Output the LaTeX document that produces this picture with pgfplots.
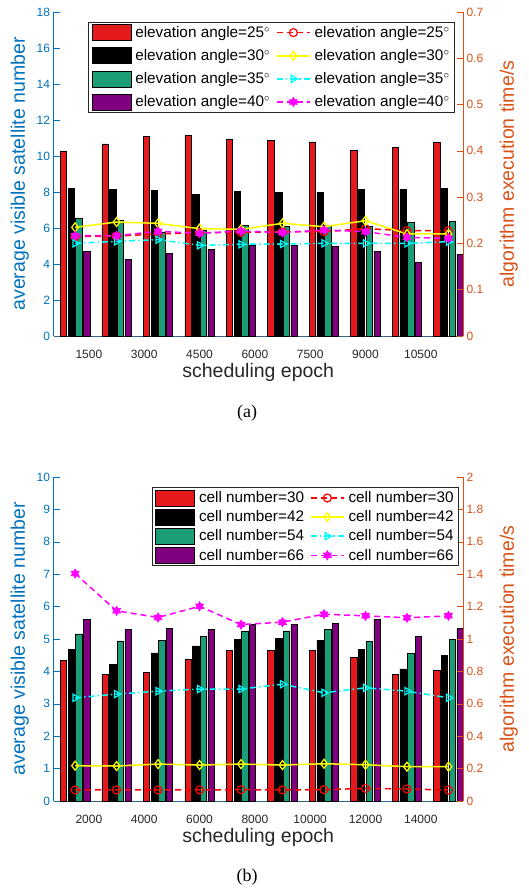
\documentclass[border=0pt]{standalone}
\usepackage{fontspec}
\setmainfont{Liberation Sans}
\newfontfamily\capfont{Liberation Serif}
\usepackage{pgfplots}
\usepackage{pgfplotstable}
\pgfplotsset{compat=1.18}
\definecolor{lblue}{RGB}{0,114,189}
\definecolor{rorange}{RGB}{217,83,25}
\definecolor{barred}{RGB}{228,26,28}
\definecolor{bargreen}{RGB}{27,158,119}
\definecolor{barpurple}{RGB}{128,0,128}
\definecolor{axgrey}{RGB}{38,38,38}
\definecolor{xaxcol}{RGB}{50,100,140}
\definecolor{lred}{RGB}{255,0,0}
\definecolor{lyel}{RGB}{255,255,0}
\definecolor{lcyan}{RGB}{0,255,255}
\definecolor{lmag}{RGB}{255,0,255}

\pgfdeclareplotmark{hexagram}{%
 \pgfpathmoveto{\pgfqpointpolar{90}{\pgfplotmarksize}}%
 \pgfpathlineto{\pgfqpointpolar{210}{\pgfplotmarksize}}%
 \pgfpathlineto{\pgfqpointpolar{330}{\pgfplotmarksize}}%
 \pgfpathclose
 \pgfpathmoveto{\pgfqpointpolar{270}{\pgfplotmarksize}}%
 \pgfpathlineto{\pgfqpointpolar{30}{\pgfplotmarksize}}%
 \pgfpathlineto{\pgfqpointpolar{150}{\pgfplotmarksize}}%
 \pgfpathclose
 \pgfusepathqfillstroke}

% group index g = 1..10
\pgfplotstableread{
g   r      k     gr    p
1   10.28  8.22  6.52  4.70
2   10.67  8.16  6.44  4.26
3   11.10  8.08  5.76  4.59
4   11.13  7.87  5.85  4.83
5   10.93  8.02  6.15  5.02
6   10.85  7.96  6.08  5.04
7   10.78  7.96  6.13  4.98
8   10.33  8.14  6.08  4.70
9   10.46  8.13  6.33  4.11
10  10.76  8.22  6.38  4.52
}\topbars
\pgfplotstableread{
g   a      b      c      d
1   0.2146 0.2348 0.2002 0.2167
2   0.2160 0.2463 0.2045 0.2167
3   0.2204 0.2434 0.2081 0.2261
4   0.2233 0.2319 0.1959 0.2218
5   0.2240 0.2305 0.1981 0.2268
6   0.2254 0.2434 0.1988 0.2233
7   0.2254 0.2362 0.2002 0.2290
8   0.2319 0.2491 0.2002 0.2254
9   0.2276 0.2204 0.2002 0.2132
10  0.2276 0.2204 0.2038 0.2110
}\toplines
\pgfplotstableread{
g   r     k     gr    p
1   4.35  4.67  5.16  5.61
2   3.90  4.22  4.94  5.30
3   3.97  4.57  4.95  5.32
4   4.38  4.79  5.08  5.30
5   4.66  4.99  5.24  5.46
6   4.65  5.03  5.25  5.46
7   4.64  4.95  5.29  5.49
8   4.43  4.67  4.92  5.61
9   3.90  4.08  4.56  5.07
10  4.03  4.49  4.99  5.32
}\botbars
\pgfplotstableread{
g   a      b      c      d
1   0.068  0.218  0.637  1.404
2   0.068  0.216  0.660  1.174
3   0.068  0.228  0.678  1.133
4   0.068  0.222  0.691  1.202
5   0.070  0.228  0.691  1.089
6   0.068  0.222  0.721  1.104
7   0.070  0.230  0.668  1.153
8   0.078  0.224  0.699  1.143
9   0.074  0.212  0.678  1.131
10  0.068  0.212  0.637  1.143
}\botlines

\pgfplotsset{
 base/.style={scale only axis, width=409.5pt, height=324pt,
   xmin=0.48, xmax=10.35, ymin=0,
   /pgf/number format/assume math mode=true,
   tick label style={font=\fontsize{12}{14}\selectfont},
   label style={font=\fontsize{19.5}{23}\selectfont},
   xtick={1.3333,2.6667,4,5.3333,6.6667,8,9.3333},
   xtick style={draw=none},
   major tick length=6pt,
   clip=true},
 leftax/.style={base, axis y line*=left, axis x line*=bottom,
   y axis line style={lblue, line width=0.8pt}, ytick style={lblue, line width=0.6pt},
   yticklabel style={lblue},
   x axis line style={xaxcol, line width=0.8pt},
   xticklabel style={axgrey, yshift=-5pt},
   xlabel={scheduling epoch},
   xlabel style={axgrey, at={(axis description cs:0.5,-0.114)}, anchor=center},
   ylabel={average visible satellite number},
   ylabel style={lblue, at={(axis description cs:-0.082,0.5)}, anchor=center},
   ybar, bar width=0.152},
 rightax/.style={base, axis y line*=right, axis x line=none,
   y axis line style={rorange, line width=0.6pt}, ytick style={rorange, line width=0.6pt},
   yticklabel style={rorange},
   ylabel={algorithm execution time/s},
   ylabel style={rorange, at={(axis description cs:1.112,0.5)}, anchor=center},
   legend columns=2, legend cell align=left,
   legend image code/.code={\draw[mark repeat=2,mark phase=2,##1] plot coordinates {(0pt,0pt) (16.5pt,0pt) (33pt,0pt)};}},
 barleg/.style={legend image code/.code={\draw[##1] (0pt,-8pt) rectangle (39pt,8pt);}},
 bar/.style={draw=black, line width=0.6pt},
 l1/.style={lred, line width=1.5pt, dash pattern=on 6pt off 4pt, mark=o, mark size=4pt, mark options={solid, line width=1.2pt}},
 l2/.style={lyel, line width=1.5pt, mark=diamond, mark size=4.5pt, mark options={solid, line width=1.2pt}},
 l3/.style={lcyan, line width=1.5pt, dash pattern=on 6pt off 3pt on 1.5pt off 3pt, mark=triangle, mark size=4.2pt, mark options={solid, rotate=-90, line width=1.2pt}},
 l4/.style={lmag, line width=1.5pt, dash pattern=on 6pt off 4pt, mark=hexagram, mark size=4.5pt, mark options={solid, fill=lmag, line width=0.8pt}},
 legsty/.style={draw=axgrey, line width=0.6pt, fill=white,
    font=\fontsize{15.3}{18}\selectfont,
    nodes={inner sep=2pt},
    /tikz/every odd column/.append style={column sep=2pt},
    /tikz/every even column/.append style={column sep=4pt}},
}

\begin{document}
\begin{tikzpicture}
\path[use as bounding box] (0pt,0pt) rectangle (528pt,-888pt);

% ---------- (a) ----------
\begin{axis}[leftax, at={(53.5pt,-336pt)}, anchor=south west,
  ymax=18, ytick={0,2,4,6,8,10,12,14,16,18},
  xticklabels={1500,3000,4500,6000,7500,9000,10500}]
\addplot[bar, fill=barred, bar shift=-0.279] table[x=g, y=r]{\topbars};
\addplot[bar, fill=black, bar shift=-0.093] table[x=g, y=k]{\topbars};
\addplot[bar, fill=bargreen, bar shift=0.093] table[x=g, y=gr]{\topbars};
\addplot[bar, fill=barpurple, bar shift=0.279] table[x=g, y=p]{\topbars};
\end{axis}
\begin{axis}[rightax, at={(53.5pt,-336pt)}, anchor=south west,
  ymax=0.7, ytick={0,0.1,0.2,0.3,0.4,0.5,0.6,0.7},
  legend style={legsty, at={(axis description cs:0.980,0.969)}, anchor=north east, row sep=6.5pt}]
\addplot[l1, forget plot] table[x=g, y=a]{\toplines};
\addplot[l2, forget plot] table[x=g, y=b]{\toplines};
\addplot[l3, forget plot] table[x=g, y=c]{\toplines};
\addplot[l4, forget plot] table[x=g, y=d]{\toplines};
\addlegendimage{barleg, bar, fill=barred}
\addlegendentry{elevation angle=25$^\circ$}
\addlegendimage{l1}
\addlegendentry{elevation angle=25$^\circ$}
\addlegendimage{barleg, bar, fill=black}
\addlegendentry{elevation angle=30$^\circ$}
\addlegendimage{l2}
\addlegendentry{elevation angle=30$^\circ$}
\addlegendimage{barleg, bar, fill=bargreen}
\addlegendentry{elevation angle=35$^\circ$}
\addlegendimage{l3}
\addlegendentry{elevation angle=35$^\circ$}
\addlegendimage{barleg, bar, fill=barpurple}
\addlegendentry{elevation angle=40$^\circ$}
\addlegendimage{l4}
\addlegendentry{elevation angle=40$^\circ$}
\end{axis}
\node[font=\capfont\fontsize{18}{20}\selectfont] at (247pt,-413pt) {(a)};

% ---------- (b) ----------
\begin{axis}[leftax, at={(53.5pt,-801pt)}, anchor=south west,
  ymax=10, ytick={0,1,2,3,4,5,6,7,8,9,10},
  xticklabels={2000,4000,6000,8000,10000,12000,14000}]
\addplot[bar, fill=barred, bar shift=-0.279] table[x=g, y=r]{\botbars};
\addplot[bar, fill=black, bar shift=-0.093] table[x=g, y=k]{\botbars};
\addplot[bar, fill=bargreen, bar shift=0.093] table[x=g, y=gr]{\botbars};
\addplot[bar, fill=barpurple, bar shift=0.279] table[x=g, y=p]{\botbars};
\end{axis}
\begin{axis}[rightax, at={(53.5pt,-801pt)}, anchor=south west,
  ymax=2, ytick={0,0.2,0.4,0.6,0.8,1,1.2,1.4,1.6,1.8,2},
  legend style={legsty, at={(axis description cs:0.990,0.968)}, anchor=north east, row sep=2.5pt}]
\addplot[l1, forget plot] table[x=g, y=a]{\botlines};
\addplot[l2, forget plot] table[x=g, y=b]{\botlines};
\addplot[l3, forget plot] table[x=g, y=c]{\botlines};
\addplot[l4, forget plot] table[x=g, y=d]{\botlines};
\addlegendimage{barleg, bar, fill=barred}
\addlegendentry{cell number=30}
\addlegendimage{l1}
\addlegendentry{cell number=30}
\addlegendimage{barleg, bar, fill=black}
\addlegendentry{cell number=42}
\addlegendimage{l2}
\addlegendentry{cell number=42}
\addlegendimage{barleg, bar, fill=bargreen}
\addlegendentry{cell number=54}
\addlegendimage{l3}
\addlegendentry{cell number=54}
\addlegendimage{barleg, bar, fill=barpurple}
\addlegendentry{cell number=66}
\addlegendimage{l4}
\addlegendentry{cell number=66}
\end{axis}
\node[font=\capfont\fontsize{18}{20}\selectfont] at (247pt,-877pt) {(b)};
\end{tikzpicture}
\end{document}
